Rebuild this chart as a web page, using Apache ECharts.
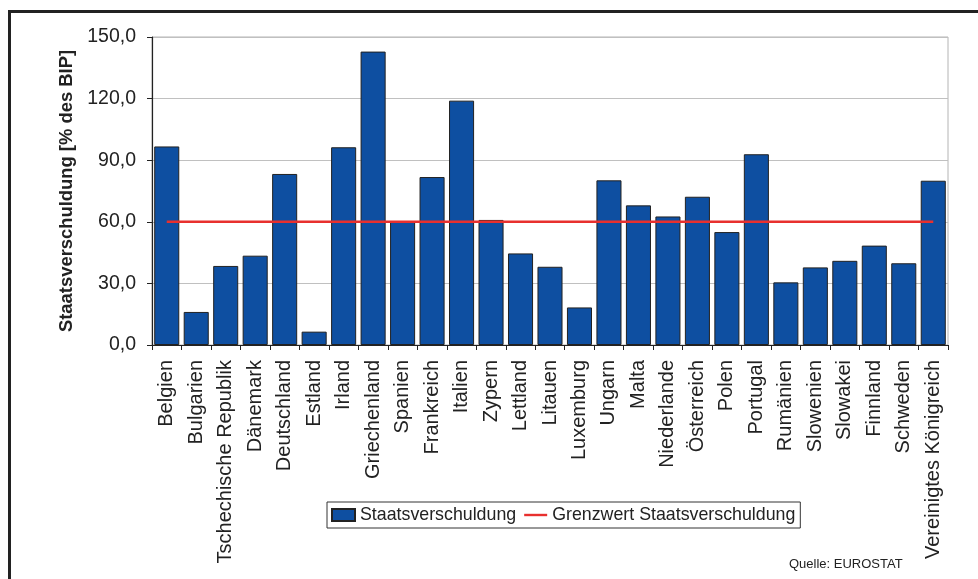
<!DOCTYPE html>
<html>
<head>
<meta charset="utf-8">
<script src="https://cdn.jsdelivr.net/npm/echarts@6/dist/echarts.min.js"></script>
<style>
  html, body { margin: 0; padding: 0; background: #ffffff; }
  #chart { width: 978px; height: 579px; }
</style>
</head>
<body>
<div id="chart"></div>
<script>
// EU-Mitgliedstaaten
const laender = [
  'Belgien', 'Bulgarien', 'Tschechische Republik', 'Dänemark', 'Deutschland',
  'Estland', 'Irland', 'Griechenland', 'Spanien', 'Frankreich', 'Italien',
  'Zypern', 'Lettland', 'Litauen', 'Luxemburg', 'Ungarn', 'Malta',
  'Niederlande', 'Österreich', 'Polen', 'Portugal', 'Rumänien', 'Slowenien',
  'Slowakei', 'Finnland', 'Schweden', 'Vereinigtes Königreich'
];

// Staatsverschuldung in % des BIP
const staatsverschuldung = [
  96.7, 16.1, 38.5, 43.5, 83.3, 6.5, 96.3, 142.9, 60.1, 81.8, 119.0,
  60.9, 44.6, 38.1, 18.3, 80.2, 68.0, 62.6, 72.2, 55.0, 92.9, 30.5,
  37.8, 41.0, 48.4, 39.8, 80.0
];

// Referenzwert 60 % des BIP
const grenzwert = [
  60, 60, 60, 60, 60, 60, 60, 60, 60, 60, 60, 60, 60, 60,
  60, 60, 60, 60, 60, 60, 60, 60, 60, 60, 60, 60, 60
];

// Achsenskala
const yMin = 0, yMax = 150, yStep = 30;

const chart = echarts.init(document.getElementById('chart'), null, { renderer: 'canvas' });
const FONT = '"Liberation Sans", Arial, sans-serif';

chart.setOption({
  animation: false,
  backgroundColor: '#ffffff',
  grid: {
    left: 152, top: 37, width: 796, height: 308,
    show: true, borderColor: '#b4b4b4', borderWidth: 1
  },
  legend: {
    left: 327, top: 502,
    padding: [4, 5, 4, 4],
    borderColor: '#333333', borderWidth: 1,
    itemWidth: 23, itemHeight: 12, itemGap: 8,
    textStyle: { fontFamily: FONT, fontSize: 17.8, color: '#222222' },
    data: [
      { name: 'Staatsverschuldung', icon: 'rect' },
      {
        name: 'Grenzwert Staatsverschuldung',
        icon: 'path://M0,0 L24,0 L24,2.5 L0,2.5 Z',
        itemStyle: { color: '#e8302e', borderWidth: 0 }
      }
    ]
  },
  xAxis: {
    type: 'category',
    data: laender,
    boundaryGap: true,
    axisLine: { lineStyle: { color: '#222222', width: 1.2 } },
    axisTick: { show: true, length: 5, lineStyle: { color: '#222222' } },
    axisLabel: {
      rotate: 90, interval: 0, margin: 15,
      fontFamily: FONT, fontSize: 20, color: '#222222'
    },
    splitLine: { show: false }
  },
  yAxis: {
    type: 'value',
    min: yMin, max: yMax, interval: yStep,
    name: 'Staatsverschuldung [% des BIP]',
    nameLocation: 'middle', nameGap: 74,
    nameTextStyle: { fontFamily: FONT, fontSize: 18.4, fontWeight: 'bold', color: '#222222' },
    axisLine: { show: true, lineStyle: { color: '#222222', width: 1.2 } },
    axisTick: { show: true, length: 5, lineStyle: { color: '#222222' } },
    axisLabel: {
      margin: 16, fontFamily: FONT, fontSize: 19.5, color: '#222222',
      formatter: v => v.toFixed(1).replace('.', ',')
    },
    splitLine: { show: true, lineStyle: { color: '#c0c0c0', width: 1 } }
  },
  series: [
    {
      name: 'Staatsverschuldung',
      type: 'bar',
      data: staatsverschuldung,
      barCategoryGap: '15%',
      itemStyle: { color: '#0e4fa1', borderColor: '#222222', borderWidth: 1 }
    },
    {
      name: 'Grenzwert Staatsverschuldung',
      type: 'line',
      data: grenzwert,
      symbol: 'none',
      lineStyle: { color: '#e8302e', width: 2.5 },
      itemStyle: { color: '#e8302e' },
      z: 5
    }
  ],
  graphic: [
    {
      type: 'rect',
      shape: { x: 9.5, y: 11.5, width: 1000, height: 600 },
      style: { fill: 'none', stroke: '#222222', lineWidth: 3 },
      silent: true
    },
    {
      type: 'text',
      left: 789, top: 558,
      style: {
        text: 'Quelle: EUROSTAT',
        fontFamily: FONT, fontSize: 13, fill: '#222222'
      },
      silent: true
    }
  ]
});
</script>
</body>
</html>
